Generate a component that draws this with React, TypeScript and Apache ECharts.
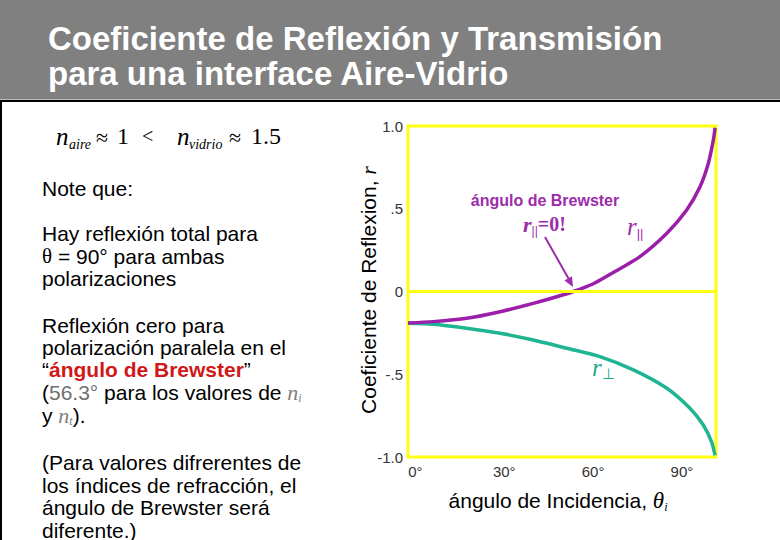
import React, { useEffect, useRef } from "react";
import * as echarts from "echarts";

// ---- data ----
const xTickValues = [0, 30, 60, 90];
const yTickValues = [-1, -0.5, 0, 0.5, 1];
const yTickLabels = ["-1.0", "-.5", "0", ".5", "1.0"];

const angleParallel = [-2.5, 6.0, 17.3, 28.6, 39.8, 47.7, 53.3, 60.1, 64.6, 75.8, 84.9, 91.6, 96.1, 98.9, 100.6, 101.2];
const rParallel = [-0.19, -0.182, -0.162, -0.122, -0.072, -0.032, 0, 0.047, 0.092, 0.211, 0.352, 0.492, 0.633, 0.774, 0.915, 0.99];

const anglePerp = [-2.5, 6.0, 17.3, 28.6, 39.8, 51.1, 62.3, 73.6, 84.9, 92.7, 97.2, 100.0, 101.2];
const rPerp = [-0.192, -0.198, -0.222, -0.252, -0.293, -0.343, -0.394, -0.474, -0.585, -0.706, -0.807, -0.908, -0.99];

const SANS = "'Liberation Sans', Arial, Helvetica, sans-serif";
const SERIF = "'Liberation Serif', 'Times New Roman', serif";

const PURPLE = "#9b1faa";
const PURPLE_TXT = "#9c2cab";
const TEAL = "#1fb592";
const TEAL_TXT = "#24a989";
const YELLOW = "#ffff10";

function t(x: number, y: number, text: string, style: any, extra: any = {}) {
  const s: any = {
    text,
    fill: "#000",
    fontFamily: SANS,
    fontSize: 21,
    align: "left",
    verticalAlign: "middle",
    textAlign: "left",
    textVerticalAlign: "middle",
    ...style,
  };
  if (style.align) s.textAlign = style.align;
  if (style.verticalAlign) s.textVerticalAlign = style.verticalAlign;
  return { type: "text", x, y, silent: true, style: s, ...extra };
}

const leftRich = {
  th: { fontFamily: SERIF, fontSize: 21, lineHeight: 24 },
  red: { fontFamily: SANS, fontSize: 21, fontWeight: "bold", fill: "#d01818", lineHeight: 24 },
  bk: { fontFamily: SANS, fontSize: 21, fill: "#000", lineHeight: 24 },
  gr: { fontFamily: SANS, fontSize: 21, fill: "#707070", lineHeight: 24 },
  ni: { fontFamily: SERIF, fontSize: 22, fontStyle: "italic", fill: "#808080", lineHeight: 24 },
  sub: { fontFamily: SERIF, fontSize: 12, fontStyle: "italic", fill: "#808080", lineHeight: 11, verticalAlign: "bottom" },
};

const leftLines: [number, string][] = [
  [188, "Note que:"],
  [233, "Hay reflexión total para"],
  [256, "{th|θ} = 90° para ambas"],
  [278, "polarizaciones"],
  [325, "Reflexión cero para"],
  [347, "polarización paralela en el"],
  [369, "“{red|ángulo de Brewster}”"],
  [392, "{bk|(}{gr|56.3°} para los valores de {ni|n}{sub|i}"],
  [415, "y {ni|n}{sub|t}{bk|).}"],
  [462, "(Para valores difrerentes de"],
  [485, "los índices de refracción, el"],
  [507, "ángulo de Brewster será"],
  [530, "diferente.)"],
];

export default function App() {
  const ref = useRef<HTMLDivElement>(null);

  useEffect(() => {
    if (!ref.current) return;
    const chart = echarts.init(ref.current, null, { renderer: "svg" });

    const graphic: any[] = [
      { type: "rect", silent: true, z: -10, shape: { x: 0, y: 0, width: 780, height: 99 }, style: { fill: "#808080" } },
      { type: "rect", silent: true, z: -10, shape: { x: 0, y: 99, width: 780, height: 1 }, style: { fill: "#b8b8b8" } },
      { type: "rect", silent: true, z: -10, shape: { x: 0, y: 100, width: 780, height: 2 }, style: { fill: "#000" } },
      { type: "rect", silent: true, z: -10, shape: { x: 0, y: 100, width: 2, height: 440 }, style: { fill: "#000" } },
      t(48, 38, "Coeficiente de Reflexión y Transmisión", { fill: "#fff", fontSize: 33, fontWeight: "bold" }),
      t(48, 73, "para una interface Aire-Vidrio", { fill: "#fff", fontSize: 33, fontWeight: "bold" }),
      // formula
      t(56, 136, "n", { fontFamily: SERIF, fontStyle: "italic", fontSize: 25 }),
      t(69, 144, "aire", { fontFamily: SERIF, fontStyle: "italic", fontSize: 14 }),
      t(96, 137, "≈", { fontFamily: SERIF, fontSize: 22 }),
      t(117, 136, "1", { fontFamily: SERIF, fontSize: 24 }),
      t(142, 136, "<", { fontFamily: SERIF, fontSize: 20 }),
      t(177, 136, "n", { fontFamily: SERIF, fontStyle: "italic", fontSize: 25 }),
      t(189, 144, "vidrio", { fontFamily: SERIF, fontStyle: "italic", fontSize: 14 }),
      t(229, 137, "≈", { fontFamily: SERIF, fontSize: 22 }),
      t(251, 136, "1.5", { fontFamily: SERIF, fontSize: 24 }),
      ...leftLines.map(([y, s]) => t(42, y, s, { fontSize: 21, lineHeight: 24, rich: leftRich })),
      // axis titles
      t(368, 290, "{a|Coeficiente de Reflexion, }{r|r}", {
        align: "center",
        rich: {
          a: { fontFamily: SANS, fontSize: 21, fill: "#000", lineHeight: 24 },
          r: { fontFamily: SERIF, fontStyle: "italic", fontSize: 22, fill: "#000", lineHeight: 24 },
        },
      }, { rotation: Math.PI / 2 }),
      t(558, 500, "{a|ángulo de Incidencia, }{th|θ}{s|i}", {
        align: "center",
        rich: {
          a: { fontFamily: SANS, fontSize: 21, fill: "#000", lineHeight: 26 },
          th: { fontFamily: SERIF, fontStyle: "italic", fontSize: 23, fill: "#000", lineHeight: 26 },
          s: { fontFamily: SERIF, fontStyle: "italic", fontSize: 12, fill: "#000", lineHeight: 11, verticalAlign: "bottom" },
        },
      }),
      // annotations
      t(545, 200, "ángulo de Brewster", { align: "center", fontSize: 16, fontWeight: "bold", fill: PURPLE_TXT }),
      t(523, 224, "{r|r}{s|||}{e|=0!}", {
        rich: {
          r: { fontFamily: SERIF, fontStyle: "italic", fontWeight: "bold", fontSize: 22, fill: PURPLE_TXT, lineHeight: 26 },
          s: { fontFamily: SANS, fontSize: 12, fill: PURPLE_TXT, lineHeight: 12, verticalAlign: "bottom" },
          e: { fontFamily: SERIF, fontWeight: "bold", fontSize: 20, fill: PURPLE_TXT, lineHeight: 26 },
        },
      }),
      t(627, 226, "{r|r}{s|||}", {
        rich: {
          r: { fontFamily: SERIF, fontStyle: "italic", fontSize: 25, fill: PURPLE_TXT, lineHeight: 28 },
          s: { fontFamily: SANS, fontSize: 13, fill: PURPLE_TXT, lineHeight: 13, verticalAlign: "bottom" },
        },
      }),
      t(592, 367, "{r|r}{s|⊥}", {
        rich: {
          r: { fontFamily: SERIF, fontStyle: "italic", fontSize: 25, fill: TEAL_TXT, lineHeight: 28 },
          s: { fontFamily: SERIF, fontSize: 15, fill: TEAL_TXT, lineHeight: 14, verticalAlign: "bottom" },
        },
      }),
      { type: "line", silent: true, z: 20, shape: { x1: 545, y1: 237, x2: 568.5, y2: 278.5 }, style: { stroke: PURPLE_TXT, lineWidth: 2 } },
      {
        type: "polygon", silent: true, z: 20,
        shape: { points: [[573, 287], [564.5, 280.5], [572, 276.2]] },
        style: { fill: PURPLE_TXT },
      },
    ];

    const option: any = {
      animation: false,
      backgroundColor: "#ffffff",
      grid: {
        left: 408, right: 64, top: 126, bottom: 83,
        show: true, borderColor: YELLOW, borderWidth: 3, backgroundColor: "transparent",
      },
      xAxis: {
        type: "value", min: -2.5, max: 101.5,
        axisLine: { show: false }, axisTick: { show: false }, splitLine: { show: false },
        axisLabel: {
          customValues: xTickValues,
          formatter: (v: number) => `${v}°`,
          margin: 7, fontSize: 15, color: "#333", fontFamily: SANS,
        },
      },
      yAxis: {
        type: "value", min: -1, max: 1, interval: 0.5,
        axisLine: { show: false }, axisTick: { show: false }, splitLine: { show: false },
        axisLabel: {
          formatter: (v: number) => {
            const i = yTickValues.findIndex((u) => Math.abs(u - v) < 1e-9);
            return i >= 0 ? yTickLabels[i] : "";
          },
          margin: 5, fontSize: 15, color: "#333", fontFamily: SANS,
        },
      },
      series: [
        {
          type: "line", name: "zero", data: [], z: 1, silent: true,
          markLine: {
            silent: true, symbol: "none", label: { show: false },
            lineStyle: { color: YELLOW, width: 3, type: "solid" },
            data: [{ yAxis: 0 }],
          },
        },
        {
          type: "line", name: "r_perp", z: 3,
          data: anglePerp.map((a, i) => [a, rPerp[i]]),
          showSymbol: false, smooth: 0.25,
          lineStyle: { color: TEAL, width: 3.5 },
        },
        {
          type: "line", name: "r_par", z: 4,
          data: angleParallel.map((a, i) => [a, rParallel[i]]),
          showSymbol: false, smooth: 0.25,
          lineStyle: { color: PURPLE, width: 3.5 },
        },
      ],
      graphic,
    };

    chart.setOption(option);
    return () => chart.dispose();
  }, []);

  return (
    <div
      ref={ref}
      style={{ position: "absolute", left: 0, top: 0, width: 780, height: 540 }}
    />
  );
}
